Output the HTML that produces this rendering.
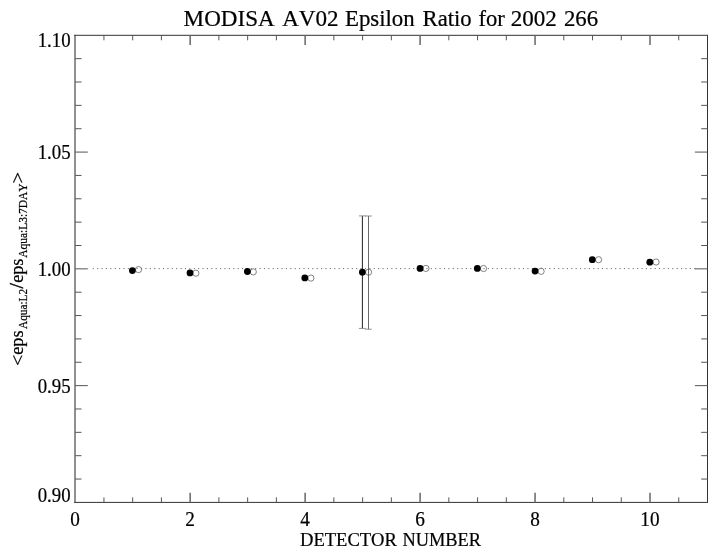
<!DOCTYPE html>
<html><head><meta charset="utf-8"><title>MODISA AV02 Epsilon Ratio for 2002 266</title>
<style>
html,body{margin:0;padding:0;background:#fff;}
body{width:718px;height:556px;overflow:hidden;}
svg{display:block;will-change:transform;}
text{font-family:"Liberation Serif",serif;fill:#000;font-kerning:none;stroke:#000;stroke-width:0.22px;}
.tl{font-size:20.2px;}
.xl{font-size:19.4px;}
.yl{font-size:19.1px;}
.ttl{font-size:23px;}
.sub{font-size:12.2px;}
.ang{font-size:19px;}
.sl{stroke:#000;stroke-width:0.45px;}
.ax{stroke:#333;stroke-width:1;}
.axl{fill:#909090;}
.tk{stroke:#555;stroke-width:1;}
.tkM{stroke:#666;stroke-width:1.5;}
.dot{stroke:#666;stroke-width:1;stroke-dasharray:1.1 3.29;}
.eb1{stroke:#222;stroke-width:1;}
.eb2{stroke:#444;stroke-width:0.8;}
.cap{stroke:#777;stroke-width:0.8;}
.fl{fill:#000;}
.op{fill:#fff;stroke:#333;stroke-width:0.6;}
</style></head>
<body>
<svg width="718" height="556" viewBox="0 0 718 556">
<rect width="718" height="556" fill="#fff"/>
<rect x="74" y="34.8" width="2" height="468.1" class="axl"/>
<line x1="74.3" y1="35.3" x2="708.0" y2="35.3" class="ax"/>
<line x1="74.3" y1="502.4" x2="708.0" y2="502.4" class="ax"/>
<line x1="707.5" y1="35.3" x2="707.5" y2="502.4" class="ax"/>
<line x1="103.94" y1="502.4" x2="103.94" y2="497.40" class="tk"/>
<line x1="103.94" y1="35.3" x2="103.94" y2="40.30" class="tk"/>
<line x1="132.68" y1="502.4" x2="132.68" y2="497.40" class="tk"/>
<line x1="132.68" y1="35.3" x2="132.68" y2="40.30" class="tk"/>
<line x1="161.42" y1="502.4" x2="161.42" y2="497.40" class="tk"/>
<line x1="161.42" y1="35.3" x2="161.42" y2="40.30" class="tk"/>
<line x1="190.16" y1="502.4" x2="190.16" y2="492.80" class="tkM"/>
<line x1="190.16" y1="35.3" x2="190.16" y2="44.90" class="tkM"/>
<line x1="218.90" y1="502.4" x2="218.90" y2="497.40" class="tk"/>
<line x1="218.90" y1="35.3" x2="218.90" y2="40.30" class="tk"/>
<line x1="247.65" y1="502.4" x2="247.65" y2="497.40" class="tk"/>
<line x1="247.65" y1="35.3" x2="247.65" y2="40.30" class="tk"/>
<line x1="276.39" y1="502.4" x2="276.39" y2="497.40" class="tk"/>
<line x1="276.39" y1="35.3" x2="276.39" y2="40.30" class="tk"/>
<line x1="305.13" y1="502.4" x2="305.13" y2="492.80" class="tkM"/>
<line x1="305.13" y1="35.3" x2="305.13" y2="44.90" class="tkM"/>
<line x1="333.87" y1="502.4" x2="333.87" y2="497.40" class="tk"/>
<line x1="333.87" y1="35.3" x2="333.87" y2="40.30" class="tk"/>
<line x1="362.61" y1="502.4" x2="362.61" y2="497.40" class="tk"/>
<line x1="362.61" y1="35.3" x2="362.61" y2="40.30" class="tk"/>
<line x1="391.35" y1="502.4" x2="391.35" y2="497.40" class="tk"/>
<line x1="391.35" y1="35.3" x2="391.35" y2="40.30" class="tk"/>
<line x1="420.09" y1="502.4" x2="420.09" y2="492.80" class="tkM"/>
<line x1="420.09" y1="35.3" x2="420.09" y2="44.90" class="tkM"/>
<line x1="448.83" y1="502.4" x2="448.83" y2="497.40" class="tk"/>
<line x1="448.83" y1="35.3" x2="448.83" y2="40.30" class="tk"/>
<line x1="477.57" y1="502.4" x2="477.57" y2="497.40" class="tk"/>
<line x1="477.57" y1="35.3" x2="477.57" y2="40.30" class="tk"/>
<line x1="506.31" y1="502.4" x2="506.31" y2="497.40" class="tk"/>
<line x1="506.31" y1="35.3" x2="506.31" y2="40.30" class="tk"/>
<line x1="535.05" y1="502.4" x2="535.05" y2="492.80" class="tkM"/>
<line x1="535.05" y1="35.3" x2="535.05" y2="44.90" class="tkM"/>
<line x1="563.80" y1="502.4" x2="563.80" y2="497.40" class="tk"/>
<line x1="563.80" y1="35.3" x2="563.80" y2="40.30" class="tk"/>
<line x1="592.54" y1="502.4" x2="592.54" y2="497.40" class="tk"/>
<line x1="592.54" y1="35.3" x2="592.54" y2="40.30" class="tk"/>
<line x1="621.28" y1="502.4" x2="621.28" y2="497.40" class="tk"/>
<line x1="621.28" y1="35.3" x2="621.28" y2="40.30" class="tk"/>
<line x1="650.02" y1="502.4" x2="650.02" y2="492.80" class="tkM"/>
<line x1="650.02" y1="35.3" x2="650.02" y2="44.90" class="tkM"/>
<line x1="678.76" y1="502.4" x2="678.76" y2="497.40" class="tk"/>
<line x1="678.76" y1="35.3" x2="678.76" y2="40.30" class="tk"/>
<line x1="75.2" y1="479.05" x2="81.50" y2="479.05" class="tk"/>
<line x1="707.5" y1="479.05" x2="701.20" y2="479.05" class="tk"/>
<line x1="75.2" y1="455.69" x2="81.50" y2="455.69" class="tk"/>
<line x1="707.5" y1="455.69" x2="701.20" y2="455.69" class="tk"/>
<line x1="75.2" y1="432.34" x2="81.50" y2="432.34" class="tk"/>
<line x1="707.5" y1="432.34" x2="701.20" y2="432.34" class="tk"/>
<line x1="75.2" y1="408.98" x2="81.50" y2="408.98" class="tk"/>
<line x1="707.5" y1="408.98" x2="701.20" y2="408.98" class="tk"/>
<line x1="75.2" y1="385.63" x2="87.80" y2="385.63" class="tk"/>
<line x1="707.5" y1="385.63" x2="694.90" y2="385.63" class="tk"/>
<line x1="75.2" y1="362.27" x2="81.50" y2="362.27" class="tk"/>
<line x1="707.5" y1="362.27" x2="701.20" y2="362.27" class="tk"/>
<line x1="75.2" y1="338.92" x2="81.50" y2="338.92" class="tk"/>
<line x1="707.5" y1="338.92" x2="701.20" y2="338.92" class="tk"/>
<line x1="75.2" y1="315.56" x2="81.50" y2="315.56" class="tk"/>
<line x1="707.5" y1="315.56" x2="701.20" y2="315.56" class="tk"/>
<line x1="75.2" y1="292.21" x2="81.50" y2="292.21" class="tk"/>
<line x1="707.5" y1="292.21" x2="701.20" y2="292.21" class="tk"/>
<line x1="75.2" y1="268.85" x2="87.80" y2="268.85" class="tk"/>
<line x1="707.5" y1="268.85" x2="694.90" y2="268.85" class="tk"/>
<line x1="75.2" y1="245.50" x2="81.50" y2="245.50" class="tk"/>
<line x1="707.5" y1="245.50" x2="701.20" y2="245.50" class="tk"/>
<line x1="75.2" y1="222.14" x2="81.50" y2="222.14" class="tk"/>
<line x1="707.5" y1="222.14" x2="701.20" y2="222.14" class="tk"/>
<line x1="75.2" y1="198.79" x2="81.50" y2="198.79" class="tk"/>
<line x1="707.5" y1="198.79" x2="701.20" y2="198.79" class="tk"/>
<line x1="75.2" y1="175.43" x2="81.50" y2="175.43" class="tk"/>
<line x1="707.5" y1="175.43" x2="701.20" y2="175.43" class="tk"/>
<line x1="75.2" y1="152.08" x2="87.80" y2="152.08" class="tk"/>
<line x1="707.5" y1="152.08" x2="694.90" y2="152.08" class="tk"/>
<line x1="75.2" y1="128.72" x2="81.50" y2="128.72" class="tk"/>
<line x1="707.5" y1="128.72" x2="701.20" y2="128.72" class="tk"/>
<line x1="75.2" y1="105.37" x2="81.50" y2="105.37" class="tk"/>
<line x1="707.5" y1="105.37" x2="701.20" y2="105.37" class="tk"/>
<line x1="75.2" y1="82.01" x2="81.50" y2="82.01" class="tk"/>
<line x1="707.5" y1="82.01" x2="701.20" y2="82.01" class="tk"/>
<line x1="75.2" y1="58.66" x2="81.50" y2="58.66" class="tk"/>
<line x1="707.5" y1="58.66" x2="701.20" y2="58.66" class="tk"/>
<circle cx="138.5" cy="269.6" r="3.1" class="op"/>
<circle cx="195.9" cy="273.2" r="3.1" class="op"/>
<circle cx="253.3" cy="271.9" r="3.1" class="op"/>
<circle cx="310.9" cy="278.1" r="3.1" class="op"/>
<circle cx="368.6" cy="272.2" r="3.1" class="op"/>
<circle cx="425.9" cy="268.4" r="3.1" class="op"/>
<circle cx="483.5" cy="268.5" r="3.1" class="op"/>
<circle cx="541.1" cy="271.3" r="3.1" class="op"/>
<circle cx="598.6" cy="259.7" r="3.1" class="op"/>
<circle cx="656.1" cy="262.0" r="3.1" class="op"/>
<line x1="92.75" y1="268.6" x2="695.5" y2="268.6" class="dot"/>
<line x1="362.4" y1="215.9" x2="362.4" y2="328.4" class="eb1"/>
<line x1="368.5" y1="216.0" x2="368.5" y2="329.2" class="eb2"/>
<line x1="358.9" y1="215.9" x2="365.9" y2="215.9" class="cap"/>
<line x1="365.0" y1="216.0" x2="371.8" y2="216.0" class="cap"/>
<line x1="358.9" y1="328.4" x2="365.7" y2="328.4" class="cap"/>
<line x1="365.0" y1="329.2" x2="371.8" y2="329.2" class="cap"/>
<circle cx="132.4" cy="270.6" r="3.4" class="fl"/>
<circle cx="190.0" cy="272.9" r="3.4" class="fl"/>
<circle cx="247.4" cy="271.5" r="3.4" class="fl"/>
<circle cx="304.8" cy="277.9" r="3.4" class="fl"/>
<circle cx="362.4" cy="272.2" r="3.4" class="fl"/>
<circle cx="420.05" cy="268.4" r="3.4" class="fl"/>
<circle cx="477.3" cy="268.4" r="3.4" class="fl"/>
<circle cx="535.05" cy="271.1" r="3.4" class="fl"/>
<circle cx="592.3" cy="259.7" r="3.4" class="fl"/>
<circle cx="649.8" cy="262.2" r="3.4" class="fl"/>
<text x="70.6" y="46.5" text-anchor="end" class="tl" textLength="32.92" lengthAdjust="spacingAndGlyphs">1.10</text>
<text x="70.6" y="158.8" text-anchor="end" class="tl" textLength="32.92" lengthAdjust="spacingAndGlyphs">1.05</text>
<text x="70.6" y="275.7" text-anchor="end" class="tl" textLength="32.92" lengthAdjust="spacingAndGlyphs">1.00</text>
<text x="70.6" y="392.5" text-anchor="end" class="tl" textLength="32.92" lengthAdjust="spacingAndGlyphs">0.95</text>
<text x="70.6" y="502.3" text-anchor="end" class="tl" textLength="32.92" lengthAdjust="spacingAndGlyphs">0.90</text>
<text x="75.10" y="525.9" text-anchor="middle" class="tl" textLength="9.60" lengthAdjust="spacingAndGlyphs">0</text>
<text x="190.06" y="525.9" text-anchor="middle" class="tl" textLength="9.60" lengthAdjust="spacingAndGlyphs">2</text>
<text x="305.03" y="525.9" text-anchor="middle" class="tl" textLength="9.60" lengthAdjust="spacingAndGlyphs">4</text>
<text x="419.99" y="525.9" text-anchor="middle" class="tl" textLength="9.60" lengthAdjust="spacingAndGlyphs">6</text>
<text x="534.95" y="525.9" text-anchor="middle" class="tl" textLength="9.60" lengthAdjust="spacingAndGlyphs">8</text>
<text x="649.92" y="525.9" text-anchor="middle" class="tl" textLength="19.21" lengthAdjust="spacingAndGlyphs">10</text>
<text y="25.8" class="ttl"><tspan x="183.64" textLength="91.04" lengthAdjust="spacingAndGlyphs">MODISA</tspan> <tspan x="282.2" textLength="56.48" lengthAdjust="spacingAndGlyphs">AV02</tspan> <tspan x="344.94" textLength="69.76" lengthAdjust="spacingAndGlyphs">Epsilon</tspan> <tspan x="422.55" textLength="49.16" lengthAdjust="spacingAndGlyphs">Ratio</tspan> <tspan x="478.45" textLength="26.36" lengthAdjust="spacingAndGlyphs">for</tspan> <tspan x="510.78" textLength="46.1" lengthAdjust="spacingAndGlyphs">2002</tspan> <tspan x="563.89" textLength="34.17" lengthAdjust="spacingAndGlyphs">266</tspan></text>
<text y="545.8" class="xl"><tspan x="300.01" textLength="96.9" lengthAdjust="spacingAndGlyphs">DETECTOR</tspan> <tspan x="402.41" textLength="78.7" lengthAdjust="spacingAndGlyphs">NUMBER</tspan></text>
<text transform="translate(22.8,365.0) rotate(-90)" class="yl"><tspan x="-0.94" dy="1.40" class="ang" textLength="11.31" lengthAdjust="spacingAndGlyphs">&lt;</tspan><tspan x="10.23" dy="-1.40" textLength="24.31" lengthAdjust="spacingAndGlyphs">eps</tspan><tspan x="36.01" dy="4.60" class="sub" textLength="40.09" lengthAdjust="spacingAndGlyphs">Aqua:L2</tspan><tspan x="76.5" dy="-4.60" class="sl">/</tspan><tspan x="82.13" dy="0.00" textLength="24.31" lengthAdjust="spacingAndGlyphs">eps</tspan><tspan x="107.21" dy="4.60" class="sub" textLength="74.44" lengthAdjust="spacingAndGlyphs">Aqua:L3:7DAY</tspan><tspan x="181.44" dy="-3.20" class="ang" textLength="11.53" lengthAdjust="spacingAndGlyphs">&gt;</tspan></text>
</svg>
</body></html>
